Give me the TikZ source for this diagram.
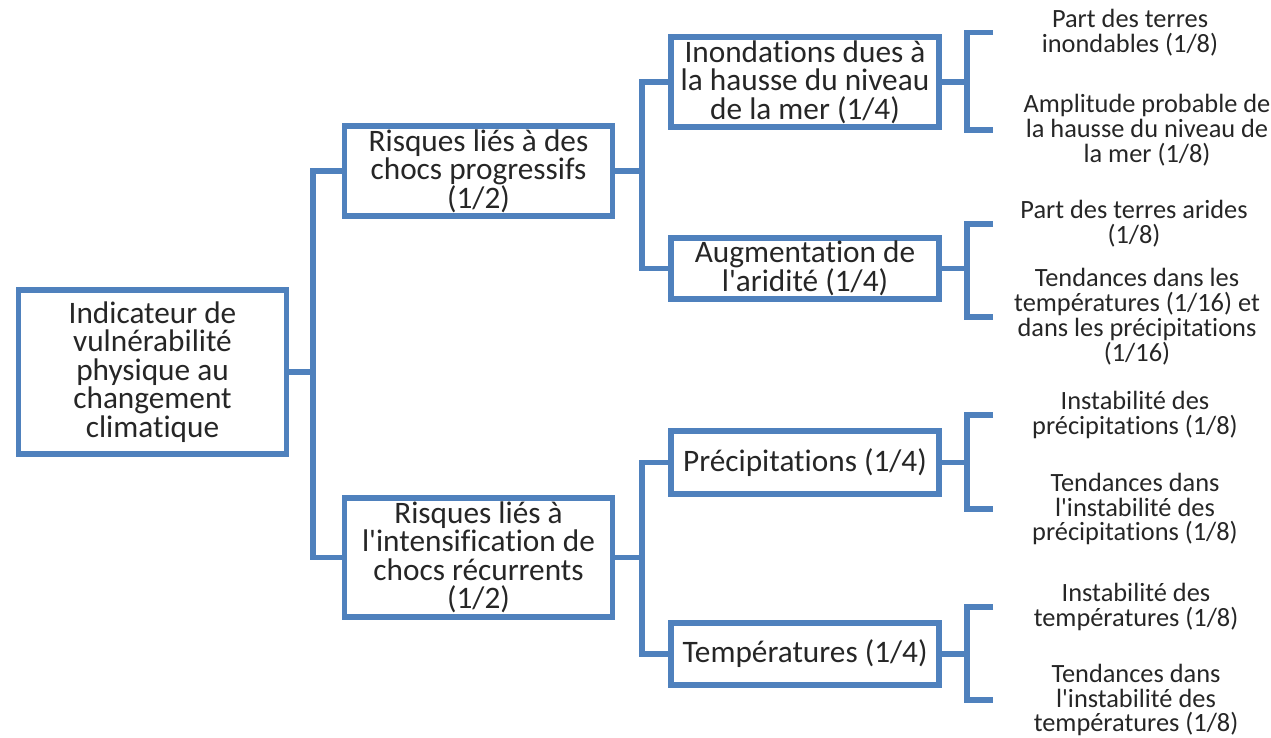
\documentclass[tikz,border=0pt]{standalone}
\usepackage{fontspec}
\setmainfont[Ligatures={NoCommon}]{Carlito}
\usepackage{xcolor}
\usepackage{tikz}
\definecolor{lineblue}{RGB}{79,129,189}
\tikzset{
  box/.style={draw=lineblue,line width=3.4pt,align=center,text=black!85,font=\fontsize{17.8}{16.2}\selectfont,minimum width=5.36cm,inner sep=2pt},
  leaf/.style={align=center,text=black!85,font=\fontsize{15}{14.2}\selectfont,inner sep=0pt},
  link/.style={draw=lineblue,line width=3.4pt},
}

\begin{document}
\begin{tikzpicture}
\useasboundingbox (0,0) rectangle (25.42,14.74);
\node[box,minimum height=3.28cm] (root) at (3.05,7.30) {Indicateur de\\vulnérabilité\\physique au\\changement\\climatique};
\node[box,minimum height=1.72cm] (prog) at (9.57,11.32) {Risques liés à des\\chocs progressifs\\(1/2)};
\node[box,minimum height=2.38cm] (recu) at (9.57,3.59) {Risques liés à\\l\textquotesingle intensification de\\chocs récurrents\\(1/2)};
\node[box,minimum height=1.68cm] (inon) at (16.10,13.10) {Inondations dues à\\la hausse du niveau\\de la mer (1/4)};
\node[box,minimum height=1.14cm] (arid) at (16.10,9.37) {Augmentation de\\l\textquotesingle aridité (1/4)};
\node[box,minimum height=1.26cm] (prec) at (16.10,5.49) {Précipitations (1/4)};
\node[box,minimum height=1.24cm] (temp) at (16.10,1.66) {Températures (1/4)};
% feuilles
\node[leaf] (l1) at (22.60,14.09) {Part des terres\\inondables (1/8)};
\node[leaf] (l2) at (22.94,12.14) {Amplitude probable de\\la hausse du niveau de\\la mer (1/8)};
\node[leaf] (l3) at (22.68,10.26) {Part des terres arides\\(1/8)};
\node[leaf] (l4) at (22.74,8.40) {Tendances dans les\\températures (1/16) et\\dans les précipitations\\(1/16)};
\node[leaf] (l5) at (22.70,6.44) {Instabilité des\\précipitations (1/8)};
\node[leaf] (l6) at (22.70,4.56) {Tendances dans\\l\textquotesingle instabilité des\\précipitations (1/8)};
\node[leaf] (l7) at (22.72,2.60) {Instabilité des\\températures (1/8)};
\node[leaf] (l8) at (22.72,0.74) {Tendances dans\\l\textquotesingle instabilité des\\températures (1/8)};
% connecteurs
\coordinate (j0) at (6.26,0); \coordinate (j1) at (12.84,0); \coordinate (j2) at (19.34,0); \coordinate (tk) at (19.86,0);
\draw[link] (root.east) -- (j0|-root);
\draw[link] (prog.west) -| (j0|-recu) -- (recu.west);
\draw[link] (prog.east) -- (j1|-prog); \draw[link] (inon.west) -| (j1|-arid) -- (arid.west);
\draw[link] (recu.east) -- (j1|-recu); \draw[link] (prec.west) -| (j1|-temp) -- (temp.west);
\foreach \p/\a/\b in {inon/l1/l2,arid/l3/l4,prec/l5/l6,temp/l7/l8} {\draw[link] (\p.east) -- (j2|-\p); \draw[link] (tk|-\a) -| (j2|-\b) -- (tk|-\b);}
\end{tikzpicture}
\end{document}
